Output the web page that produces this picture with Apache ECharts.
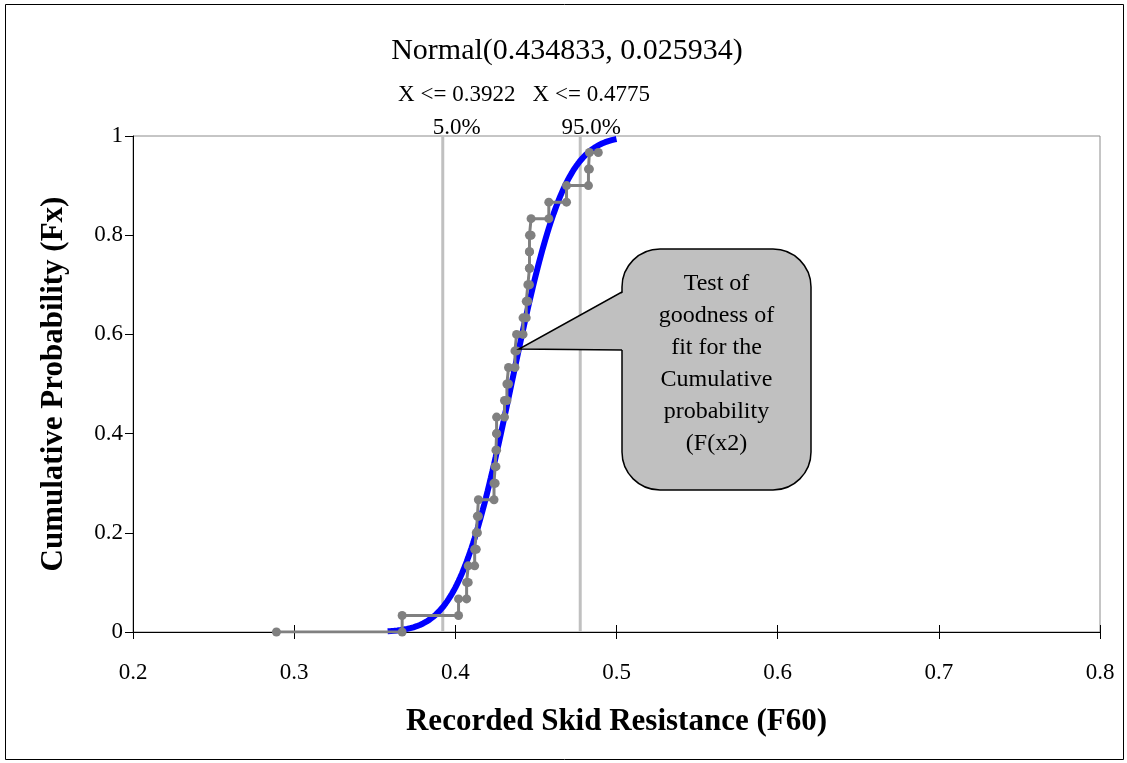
<!DOCTYPE html>
<html>
<head>
<meta charset="utf-8">
<script src="https://cdn.jsdelivr.net/npm/echarts@6/dist/echarts.min.js"></script>
<style>
  html, body { margin: 0; padding: 0; background: #ffffff; }
  #chart { width: 1127px; height: 763px; }
</style>
</head>
<body>
<div id="chart"></div>
<script>
// Fitted distribution: Normal(mean, sd)
const fitMean = 0.434833;
const fitSd = 0.025934;
const fitRange = [0.358, 0.500];

// Percentile markers of the fitted distribution
const markerX = [0.3922, 0.4775];
const markerPct = ['5.0%', '95.0%'];

// Observed skid resistance values (F60), sorted
const observedF60 = [
  0.289, 0.367, 0.402, 0.407, 0.408, 0.412, 0.413, 0.4137, 0.4143, 0.424,
  0.4247, 0.4252, 0.4256, 0.4256, 0.4305, 0.432, 0.433, 0.437, 0.438, 0.442,
  0.444, 0.445, 0.446, 0.446, 0.446, 0.447, 0.458, 0.469, 0.4826, 0.4832,
  0.4887
];

// Axis ticks
const xTicks = [0.2, 0.3, 0.4, 0.5, 0.6, 0.7, 0.8];
const yTicks = [0, 0.2, 0.4, 0.6, 0.8, 1];

const FONT = '"Liberation Serif", "Times New Roman", serif';

// Normal CDF (Abramowitz & Stegun 7.1.26 for erf)
function normCdf(x, mu, sd) {
  const z = (x - mu) / (sd * Math.SQRT2);
  const t = 1 / (1 + 0.3275911 * Math.abs(z));
  const y = 1 - (((((1.061405429 * t - 1.453152027) * t) + 1.421413741) * t - 0.284496736) * t + 0.254829592) * t * Math.exp(-z * z);
  return 0.5 * (1 + (z >= 0 ? y : -y));
}

// Fitted curve points
const fitCurve = [];
for (let i = 0; i <= Math.round((fitRange[1] - fitRange[0]) * 1000); i++) {
  const x = fitRange[0] + i / 1000;
  fitCurve.push([x, normCdf(x, fitMean, fitSd)]);
}

// Empirical staircase: horizontal to the next value, then step up
const levels = observedF60.length - 1;
const stairs = [[observedF60[0], 0]];
for (let k = 1; k < levels; k++) {
  stairs.push([observedF60[k], (k - 1) / levels]);
  stairs.push([observedF60[k], k / levels]);
}
stairs.push([observedF60[levels], (levels - 1) / levels]);

const chart = echarts.init(document.getElementById('chart'), null, { renderer: 'canvas' });

const axisCommon = {
  type: 'value',
  min: xTicks[0],
  max: xTicks[xTicks.length - 1],
  interval: 0.1,
  splitLine: { show: false }
};

const option = {
  backgroundColor: '#ffffff',
  animation: false,
  grid: {
    left: 133, right: 27, top: 136, bottom: 131,
    show: true, borderColor: '#8c8c8c', borderWidth: 1, backgroundColor: 'transparent'
  },
  xAxis: [
    Object.assign({}, axisCommon, {
      name: 'Recorded Skid Resistance (F60)',
      nameLocation: 'middle',
      nameGap: 74,
      nameTextStyle: { fontFamily: FONT, fontSize: 31, fontWeight: 'bold', color: '#000' },
      axisLine: { show: true, onZero: false, lineStyle: { color: '#000', width: 1 } },
      axisTick: { show: true, inside: false, length: 7, lineStyle: { color: '#000' } },
      axisLabel: {
        margin: 29, fontFamily: FONT, fontSize: 23, color: '#000',
        formatter: v => v.toFixed(1)
      }
    }),
    Object.assign({}, axisCommon, {
      position: 'bottom',
      axisLine: { show: false },
      axisTick: { show: true, inside: true, length: 7, lineStyle: { color: '#000' } },
      axisLabel: { show: false }
    })
  ],
  yAxis: {
    type: 'value',
    min: 0, max: 1, interval: 0.2,
    name: 'Cumulative Probability (Fx)',
    nameLocation: 'middle',
    nameGap: 64,
    nameTextStyle: { fontFamily: FONT, fontSize: 31, fontWeight: 'bold', color: '#000' },
    splitLine: { show: false },
    axisLine: { show: true, onZero: false, lineStyle: { color: '#000', width: 1 } },
    axisTick: { show: true, inside: false, length: 8, lineStyle: { color: '#000' } },
    axisLabel: {
      margin: 10, fontFamily: FONT, fontSize: 23, color: '#000',
      formatter: v => String(+v.toFixed(1))
    }
  },
  series: [
    {
      name: 'P5',
      type: 'line',
      xAxisIndex: 0,
      data: [[markerX[0], 0], [markerX[0], 1]],
      showSymbol: false,
      lineStyle: { color: '#c0c0c0', width: 3 },
      z: 1
    },
    {
      name: 'P95',
      type: 'line',
      xAxisIndex: 0,
      data: [[markerX[1], 0], [markerX[1], 1]],
      showSymbol: false,
      lineStyle: { color: '#c0c0c0', width: 3 },
      z: 1
    },
    {
      name: 'Normal',
      type: 'line',
      xAxisIndex: 0,
      data: fitCurve,
      showSymbol: false,
      smooth: false,
      lineStyle: { color: '#0000ff', width: 6 },
      z: 2
    },
    {
      name: 'Observed',
      type: 'line',
      xAxisIndex: 0,
      data: stairs,
      symbol: 'circle',
      symbolSize: 9,
      showAllSymbol: true,
      itemStyle: { color: '#808080' },
      lineStyle: { color: '#808080', width: 3 },
      z: 3
    }
  ]
};

chart.setOption(option);

// Text annotations positioned from the axis scales
const px = markerX.map(x => chart.convertToPixel({ xAxisIndex: 0 }, x));
const topY = chart.convertToPixel({ yAxisIndex: 0 }, 1);

// Callout box geometry
const box = { x: 622, y: 249, w: 189, h: 241, r: 38 };
const tip = [519, 349];
const joinTop = 292, joinBottom = 350;

chart.setOption({
  graphic: [
    {
      type: 'rect',
      shape: { x: 5.5, y: 4.5, width: 1118, height: 755 },
      style: { fill: 'none', stroke: '#000', lineWidth: 1 },
      silent: true, z: 0
    },
    {
      type: 'text',
      style: {
        text: 'Normal(' + fitMean + ', ' + fitSd + ')',
        x: 567, y: 51,
        font: '30px ' + FONT, fill: '#000',
        textAlign: 'center', textVerticalAlign: 'middle'
      }
    },
    {
      type: 'text',
      style: {
        text: 'X <= ' + markerX[0].toFixed(4),
        x: px[0] + 14, y: 95,
        font: '23px ' + FONT, fill: '#000',
        textAlign: 'center', textVerticalAlign: 'middle'
      }
    },
    {
      type: 'text',
      style: {
        text: 'X <= ' + markerX[1].toFixed(4),
        x: px[1] + 11, y: 95,
        font: '23px ' + FONT, fill: '#000',
        textAlign: 'center', textVerticalAlign: 'middle'
      }
    },
    {
      type: 'text',
      style: {
        text: markerPct[0],
        x: px[0] + 14, y: topY - 8,
        font: '23px ' + FONT, fill: '#000',
        textAlign: 'center', textVerticalAlign: 'middle'
      }, z: 10
    },
    {
      type: 'text',
      style: {
        text: markerPct[1],
        x: px[1] + 11, y: topY - 8,
        font: '23px ' + FONT, fill: '#000',
        textAlign: 'center', textVerticalAlign: 'middle'
      }, z: 10
    },
    // Rounded callout body
    {
      type: 'rect',
      shape: { x: box.x, y: box.y, width: box.w, height: box.h, r: box.r },
      style: { fill: '#c0c0c0', stroke: '#000', lineWidth: 1.5 },
      z: 20
    },
    // Callout pointer fill (covers the body edge where it joins)
    {
      type: 'polygon',
      shape: { points: [tip, [box.x + 2, joinTop], [box.x + 2, joinBottom]] },
      style: { fill: '#c0c0c0', stroke: 'none' },
      z: 21
    },
    {
      type: 'polyline',
      shape: { points: [[box.x, joinTop], tip, [box.x, joinBottom]] },
      style: { fill: 'none', stroke: '#000', lineWidth: 1.5 },
      z: 22
    },
    {
      type: 'text',
      style: {
        text: 'Test of\ngoodness of\nfit for the\nCumulative\nprobability\n(F(x2)',
        x: box.x + box.w / 2, y: 364,
        font: '24px ' + FONT, fill: '#000', lineHeight: 32,
        textAlign: 'center', textVerticalAlign: 'middle'
      },
      z: 23
    }
  ]
});
</script>
</body>
</html>
